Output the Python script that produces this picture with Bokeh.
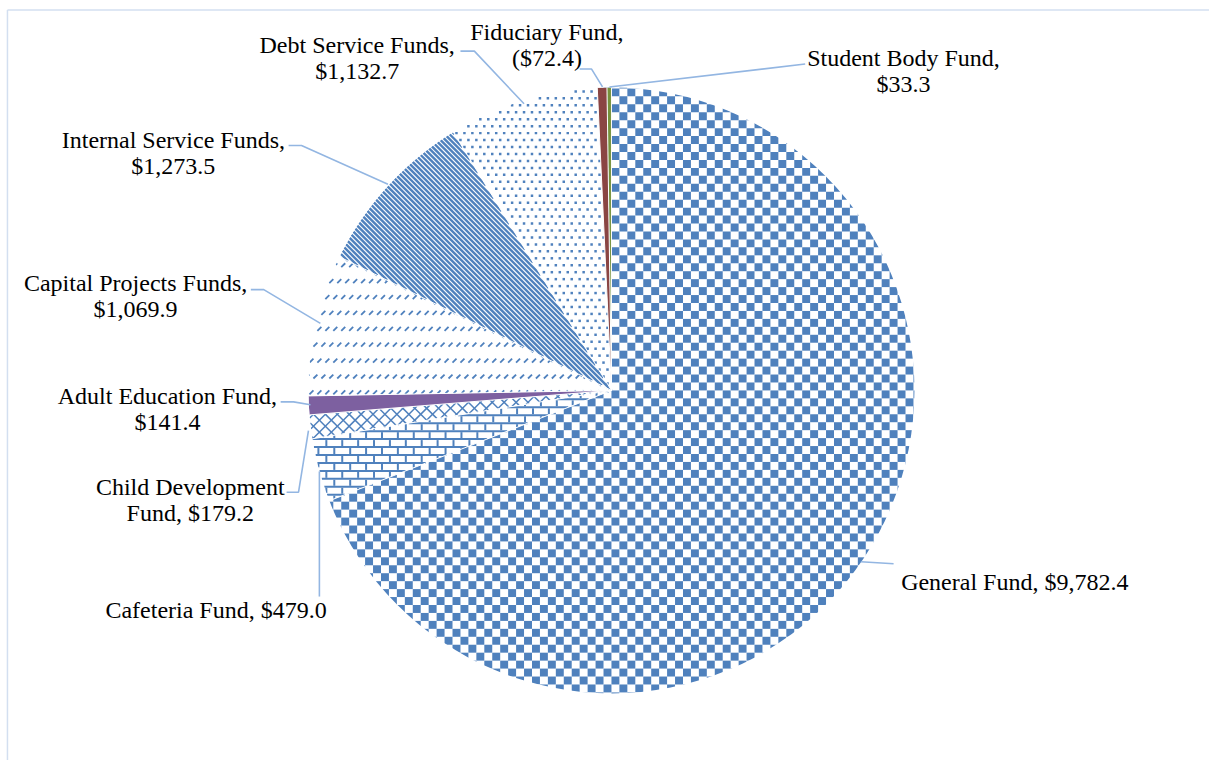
import math
from bokeh.plotting import figure
from bokeh.models import Range1d
from bokeh.core.properties import value
from bokeh.embed import file_html
from bokeh.resources import INLINE

# ---- data ----
funds = ["General Fund", "Cafeteria Fund", "Child Development Fund", "Adult Education Fund",
         "Capital Projects Funds", "Internal Service Funds", "Debt Service Funds",
         "Fiduciary Fund", "Student Body Fund"]
amounts = [9782.4, 479.0, 179.2, 141.4, 1069.9, 1273.5, 1132.7, -72.4, 33.3]
styles = ["checker", "brick", "lattice", "solid", "dashdiag", "diag", "dots", "solid", "solid"]
solid_colors = [None, None, None, "#7D60A0", None, None, None, "#8A4543", "#76923C"]

def fmt(v):
    s = "${:,.1f}".format(abs(v))
    return "(" + s + ")" if v < 0 else s

def label_lines(name, v):
    if name == "Child Development Fund":
        return ["Child Development", "Fund, " + fmt(v)]
    if name in ("Cafeteria Fund", "General Fund"):
        return [name + ", " + fmt(v)]
    return [name + ",", fmt(v)]

# ---- layout (reference pixel coordinates, y downward) ----
CX, CY, R = 615, 392.5, 305
label_pos = [  # (x center, vertical middle of first line)
    (1021, 585), (217, 614), (191, 490), (168, 398), (136, 284),
    (174, 140), (359, 45), (550, 32), (909, 58)]
LINE_GAP = 26.3
leaders = [
    [(866, 565), (899, 567)],
    [(321, 600), (321, 474)],
    [(288, 495), (300, 495), (310, 433)],
    [(282, 404), (295, 404), (312, 407)],
    [(252, 291), (265, 291), (322, 325)],
    [(290, 146), (303, 146), (390, 185)],
    [(463, 51), (477, 51), (527, 104)],
    [(583, 69), (595, 69), (606, 87)],
    [(613, 87), (810, 64)],
]
BLUE = "#4F81BD"

W, H = 1209, 760
SC = W / 1217.0
p = figure(width=W, height=H, output_backend="svg", toolbar_location=None,
           x_range=Range1d(0, 1217), y_range=Range1d(-H / SC, 0),
           x_axis_type=None, y_axis_type=None, min_border=0)
p.outline_line_color = None
p.grid.visible = False
p.background_fill_color = "white"
p.border_fill_color = "white"

# chart frame (top and left edges)
p.line([7, 1217], [-9.5, -9.5], line_color="#D3DFF0", line_width=1.5)
p.line([7, 7], [-9.5, -800], line_color="#D3DFF0", line_width=1.5)

# ---- geometry helpers (page coords relative to centre, y down) ----
def cross(a, b):
    return a[0] * b[1] - a[1] * b[0]

def vdir(phi):
    return (math.sin(phi), -math.cos(phi))

def clip(P0, d, phi0, phi1, rad, tmin=-1e9, tmax=1e9):
    lo, hi = tmin, tmax
    v0, v1 = vdir(phi0), vdir(phi1)
    for a, b in ((cross(v0, P0), cross(v0, d)), (-cross(v1, P0), -cross(v1, d))):
        if abs(b) < 1e-12:
            if a < 0:
                return None
        elif b > 0:
            lo = max(lo, -a / b)
        else:
            hi = min(hi, -a / b)
    A = d[0] ** 2 + d[1] ** 2
    B = 2 * (P0[0] * d[0] + P0[1] * d[1])
    C = P0[0] ** 2 + P0[1] ** 2 - rad ** 2
    disc = B * B - 4 * A * C
    if disc <= 0:
        return None
    sq = math.sqrt(disc)
    lo = max(lo, (-B - sq) / (2 * A))
    hi = min(hi, (-B + sq) / (2 * A))
    if hi <= lo:
        return None
    return (P0[0] + lo * d[0], P0[1] + lo * d[1], P0[0] + hi * d[0], P0[1] + hi * d[1])

def in_sector(x, y, phi0, phi1, rad):
    if math.hypot(x, y) > rad:
        return False
    ph = math.atan2(x, -y) % (2 * math.pi)
    return phi0 <= ph <= phi1

def draw_segs(segs, width):
    if not segs:
        return
    p.segment(x0=[CX + s[0] for s in segs], y0=[-(CY + s[1]) for s in segs],
              x1=[CX + s[2] for s in segs], y1=[-(CY + s[3]) for s in segs],
              line_color=BLUE, line_width=width, line_cap="butt")

N = int(R) + 24

def pattern(style, phi0, phi1):
    if style == "checker":
        L, Rr, T, B = [], [], [], []
        for i in range(-N // 8 - 1, N // 8 + 2):
            for j in range(-N // 8 - 1, N // 8 + 2):
                if (i + j) % 2:
                    continue
                xs, ys = i * 8, j * 8
                pts = [(xs, ys), (xs + 8, ys), (xs, ys + 8), (xs + 8, ys + 8), (xs + 4, ys + 4)]
                if any(in_sector(px, py, phi0, phi1, R) for px, py in pts):
                    L.append(CX + xs); Rr.append(CX + xs + 8)
                    T.append(-(CY + ys)); B.append(-(CY + ys + 8))
        p.quad(left=L, right=Rr, top=T, bottom=B, fill_color=BLUE, line_color=None)
    elif style == "brick":
        segs = []
        for k in range(-N // 8 - 1, N // 8 + 2):
            s = clip((0, k * 8 + 1), (1, 0), phi0, phi1, R)
            if s:
                segs.append(s)
            for m in range(-N // 16 - 1, N // 16 + 2):
                x = m * 16 + (8 if k % 2 else 0)
                s = clip((x + 1, k * 8 + 2), (0, 6), phi0, phi1, R, 0, 1)
                if s:
                    segs.append(s)
        draw_segs(segs, 2)
    elif style == "lattice":
        segs = []
        for k in range(-2 * N // 12 - 2, 2 * N // 12 + 3):
            for d in ((1, 1), (1, -1)):
                s = clip((k * 12, 0), d, phi0, phi1, R)
                if s:
                    segs.append(s)
        draw_segs(segs, 1.5)
    elif style == "dashdiag":
        segs = []
        for k in range(-N // 16 - 1, N // 16 + 2):
            for m in range(-N // 8 - 1, N // 8 + 2):
                s = clip((m * 8 + (4 if k % 2 else 0), k * 16 + 4), (4, -4), phi0, phi1, R, 0, 1)
                if s:
                    segs.append(s)
        draw_segs(segs, 1.8)
    elif style == "diag":
        segs = []
        for k in range(-2 * N // 5 - 2, 2 * N // 5 + 3):
            s = clip((k * 5, 0), (1, 1), phi0, phi1, R)
            if s:
                segs.append(s)
        draw_segs(segs, 2.4)
    elif style == "dots":
        xs_, ys_ = [], []
        for j in range(-N // 14 - 1, N // 14 + 2):
            for i in range(-N // 8 - 1, N // 8 + 2):
                for (ox, oy) in ((0, 0), (4, 7)):
                    x, y = i * 8 + ox, j * 14 + oy
                    if in_sector(x, y, phi0 + 0.004, phi1 - 0.004, R - 1):
                        xs_.append(CX + x); ys_.append(-(CY + y))
        p.rect(x=xs_, y=ys_, width=2.5, height=2.5, fill_color=BLUE, line_color=None)

# ---- slices ----
total = sum(abs(a) for a in amounts)
bounds = [0.0]
for a in amounts:
    bounds.append(bounds[-1] + abs(a) / total * 2 * math.pi)

for i in range(len(funds)):
    phi0, phi1 = bounds[i], bounds[i + 1]
    a0, a1 = math.pi / 2 - phi0, math.pi / 2 - phi1
    if i > 0:
        p.wedge(x=[CX], y=[-CY], radius=R, start_angle=[a0], end_angle=[a1], direction="clock",
                fill_color=solid_colors[i] if styles[i] == "solid" else "white", line_color=None)
    if styles[i] != "solid":
        pattern(styles[i], phi0, phi1)

# trim everything to the pie's rim
p.annulus(x=[CX], y=[-CY], inner_radius=R, outer_radius=R + 40, fill_color="white", line_color=None)

# thin white slice separators
p.segment(x0=[CX] * len(funds), y0=[-CY] * len(funds),
          x1=[CX + R * math.sin(b) for b in bounds[:-1]],
          y1=[-(CY - R * math.cos(b)) for b in bounds[:-1]],
          line_color="white", line_width=1)

# leader lines
p.multi_line(xs=[[pt[0] for pt in l] for l in leaders],
             ys=[[-pt[1] for pt in l] for l in leaders],
             line_color="#93B6E2", line_width=1.6)

# labels
tx, ty, tt = [], [], []
for i, (name, amt) in enumerate(zip(funds, amounts)):
    lx, ly = label_pos[i]
    for k, line in enumerate(label_lines(name, amt)):
        tx.append(lx)
        ty.append(-(ly + k * LINE_GAP))
        tt.append(line)
p.text(x=tx, y=ty, text=tt, text_font=value("Liberation Serif"), text_font_size="24px",
       text_align="center", text_baseline="middle", text_color="black")

open("out.html", "w").write(file_html(p, INLINE))
